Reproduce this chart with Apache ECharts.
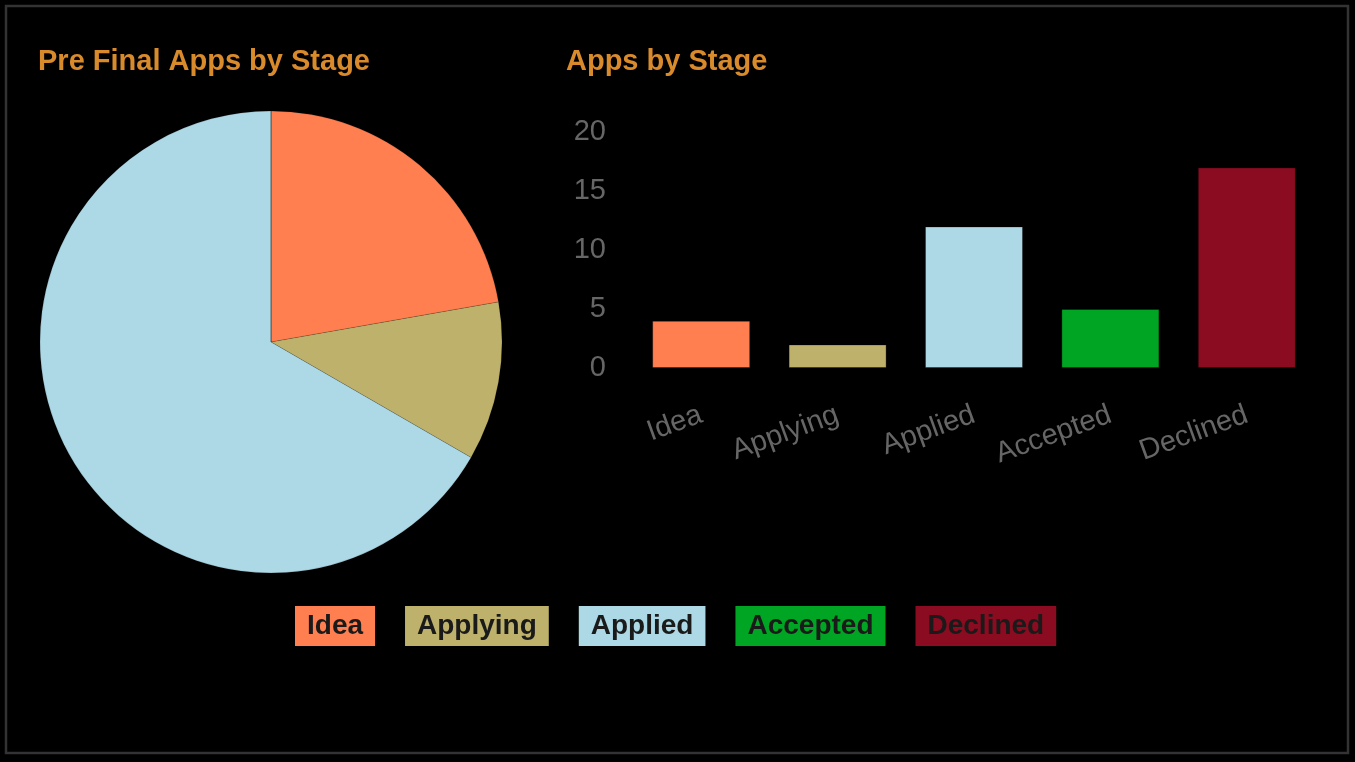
<!DOCTYPE html>
<html>
<head>
<meta charset="utf-8">
<script src="https://cdn.jsdelivr.net/npm/echarts@6/dist/echarts.min.js"></script>
<style>
  html, body { margin: 0; padding: 0; background: #000; }
  #chart { width: 1355px; height: 762px; }
</style>
</head>
<body>
<div id="chart"></div>
<script>
// stages and counts
var stages = ['Idea', 'Applying', 'Applied', 'Accepted', 'Declined']
var stageColors = ['#FF7F50', '#BDB16B', '#ADD8E6', '#00A523', '#8B0C20']
var preFinalCounts = [4, 2, 12, 0, 0]
var stageCounts = [4, 2, 12, 5, 17]
var yTicks = { min: 0, max: 20, interval: 5 }

var font = 'Liberation Sans, Arial, sans-serif'

var myChart = echarts.init(document.getElementById('chart'))

var pieData = stages.map(function (name, i) {
	return { name: name, value: preFinalCounts[i], itemStyle: { color: stageColors[i] } }
})
var barData = stageCounts.map(function (v, i) {
	return { value: v, itemStyle: { color: stageColors[i] } }
})
var legendData = stages.map(function (name, i) {
	return {
		name: name,
		icon: 'none',
		textStyle: { backgroundColor: stageColors[i], padding: [8, 12, 4, 12] }
	}
})

var option = {
	backgroundColor: '#000',
	animation: false,
	title: [
		{
			text: 'Pre Final Apps by Stage', left: 38, top: 47, padding: 0,
			textStyle: { color: '#D98A2B', fontSize: 29, fontWeight: 'bold', fontFamily: font }
		},
		{
			text: 'Apps by Stage', left: 566, top: 47, padding: 0,
			textStyle: { color: '#D98A2B', fontSize: 29, fontWeight: 'bold', fontFamily: font }
		}
	],
	legend: {
		data: legendData,
		left: 285,
		top: 601,
		itemWidth: 0,
		itemHeight: 0,
		itemGap: 25,
		selectedMode: false,
		textStyle: { color: '#1a1a1a', fontSize: 28, fontWeight: 'bold', fontFamily: font }
	},
	grid: { left: 633, right: 40, top: 132, bottom: 394 },
	xAxis: {
		type: 'category',
		data: stages,
		axisLine: { show: false },
		axisTick: { show: false },
		axisLabel: { rotate: 20, margin: 46, color: '#666', fontSize: 29, fontFamily: font, interval: 0 }
	},
	yAxis: {
		type: 'value',
		min: yTicks.min,
		max: yTicks.max,
		interval: yTicks.interval,
		axisLine: { show: false },
		axisTick: { show: false },
		splitLine: { show: false },
		axisLabel: { margin: 27, color: '#666', fontSize: 29, fontFamily: font }
	},
	series: [
		{
			type: 'pie',
			center: [271, 342],
			radius: 231,
			startAngle: 90,
			clockwise: true,
			label: { show: false },
			labelLine: { show: false },
			itemStyle: { borderColor: 'rgba(0,0,0,0.12)', borderWidth: 1 },
			data: pieData
		},
		{
			type: 'bar',
			barWidth: 98,
			itemStyle: { borderColor: 'rgba(0,0,0,0.3)', borderWidth: 1 },
			data: barData
		}
	],
	graphic: [
		{
			type: 'rect',
			shape: { x: 6, y: 6, width: 1342, height: 747 },
			style: { fill: 'none', stroke: '#333', lineWidth: 2.5 },
			silent: true
		}
	]
}
myChart.setOption(option)
</script>
</body>
</html>
